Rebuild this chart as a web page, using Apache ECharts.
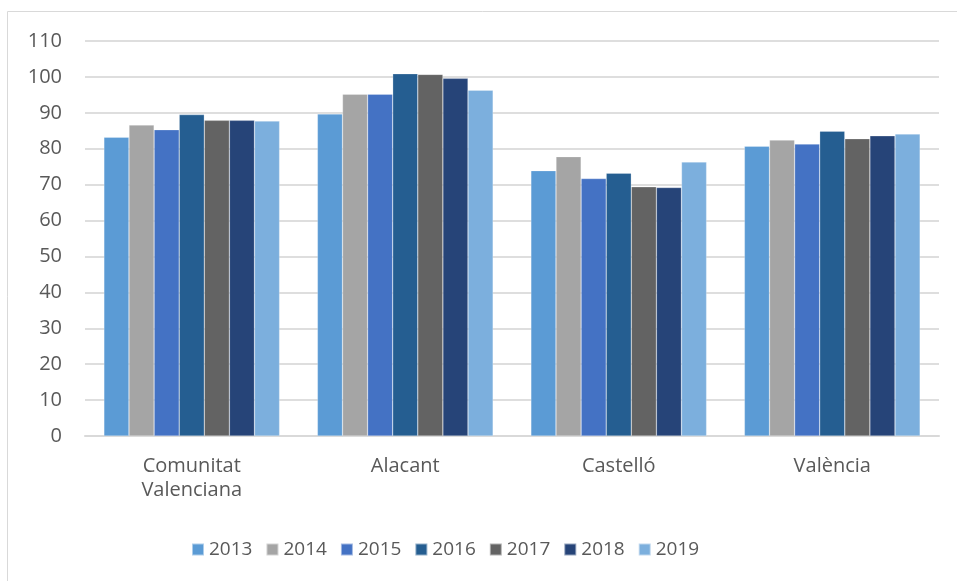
<!DOCTYPE html>
<html><head><meta charset="utf-8">
<script src="https://cdn.jsdelivr.net/npm/echarts@6/dist/echarts.min.js"></script>
<style>html,body{margin:0;padding:0;background:#fff}#c{width:957px;height:581px}</style>
</head><body><div id="c"></div>
<script>
const categories = ['Comunitat\nValenciana', 'Alacant', 'Castelló', 'València'];
const years = ['2013', '2014', '2015', '2016', '2017', '2018', '2019'];
const v2013 = [83.2, 89.7, 73.9, 80.7];
const v2014 = [86.6, 95.2, 77.8, 82.4];
const v2015 = [85.3, 95.2, 71.7, 81.3];
const v2016 = [89.5, 100.9, 73.2, 84.9];
const v2017 = [87.9, 100.7, 69.4, 82.8];
const v2018 = [87.9, 99.6, 69.2, 83.6];
const v2019 = [87.7, 96.3, 76.3, 84.1];
const colors = ['#5B9BD5', '#A5A5A5', '#4472C4', '#255E91', '#636363', '#264478', '#7CAFDD'];
const values = [v2013, v2014, v2015, v2016, v2017, v2018, v2019];
const font = 'Open Sans';
const chart = echarts.init(document.getElementById('c'));
chart.setOption({
  animation: false,
  color: colors,
  graphic: [{type: 'rect', shape: {x: 7.5, y: 11.5, width: 960, height: 600}, style: {fill: 'none', stroke: '#d9d9d9', lineWidth: 1}}],
  grid: {left: 85, right: 18, top: 41, bottom: 145, containLabel: false},
  legend: {
    top: 540, left: 191, padding: 0, itemWidth: 12, itemHeight: 12, itemGap: 13, icon: 'rect',
    textStyle: {color: '#595959', fontSize: 19, fontFamily: font}
  },
  xAxis: {
    type: 'category', data: categories,
    axisLine: {lineStyle: {color: '#d9d9d9', width: 2}},
    axisTick: {show: false},
    axisLabel: {color: '#595959', fontSize: 20, fontFamily: font, margin: 18, lineHeight: 24}
  },
  yAxis: {
    type: 'value', min: 0, max: 110, interval: 10,
    axisLine: {show: false}, axisTick: {show: false},
    splitLine: {lineStyle: {color: '#dedede', width: 2}},
    axisLabel: {color: '#595959', fontSize: 20, fontFamily: font, margin: 23}
  },
  series: years.map((y, i) => ({
    name: y, type: 'bar', data: values[i], barGap: '0%', barCategoryGap: '17.7%',
    itemStyle: {borderColor: 'rgba(255,255,255,0.5)', borderWidth: 0.5}
  }))
});
</script></body></html>
